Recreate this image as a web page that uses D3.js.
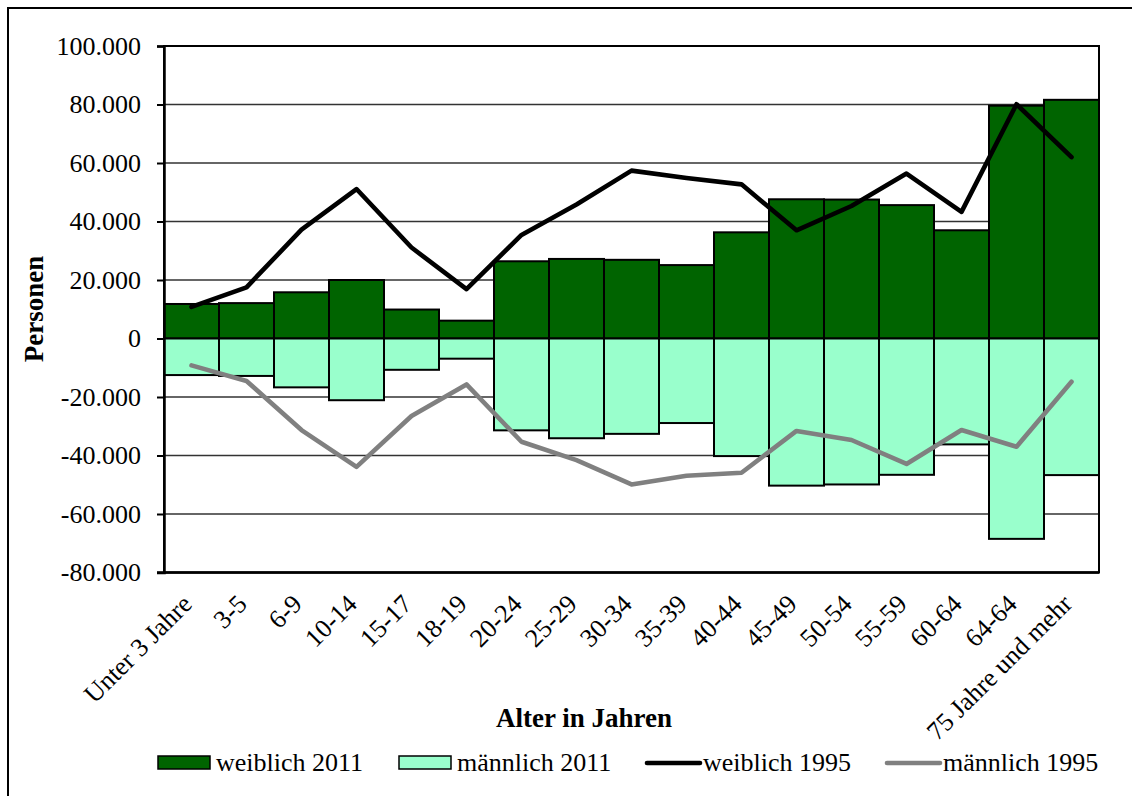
<!DOCTYPE html>
<html>
<head>
<meta charset="utf-8">
<script src="https://cdnjs.cloudflare.com/ajax/libs/d3/7.8.5/d3.min.js"></script>
<style>
  html, body { margin: 0; padding: 0; background: #fff; }
  svg { display: block; }
  text { font-family: "Liberation Serif", "Times New Roman", serif; fill: #000; }
</style>
</head>
<body>
<svg id="chart" width="1132" height="796"></svg>
<script>
// Age groups
const categories = ["Unter 3 Jahre", "3-5", "6-9", "10-14", "15-17", "18-19", "20-24", "25-29",
  "30-34", "35-39", "40-44", "45-49", "50-54", "55-59", "60-64", "64-64", "75 Jahre und mehr"];

// Persons per age group
const female2011 = [11800, 12100, 15800, 20000, 9900, 6100, 26400, 27200, 26900, 25100,
  36300, 47600, 47500, 45600, 37000, 79600, 81600];
const male2011 = [-12500, -12800, -16700, -21100, -10700, -6900, -31400, -34100, -32600, -28900,
  -40200, -50300, -49900, -46600, -36200, -68500, -46700];
const female1995 = [10800, 17500, 37200, 51100, 31100, 16900, 35400, 45800, 57400, 54900,
  52700, 37000, 45300, 56400, 43300, 80100, 62000];
const male1995 = [-9200, -14500, -31300, -43900, -26500, -15700, -35300, -41600, -49900, -46900,
  -45900, -31600, -34700, -42900, -31300, -37000, -14800];

const yTicks = [-80000, -60000, -40000, -20000, 0, 20000, 40000, 60000, 80000, 100000];

const legendItems = [
  { label: "weiblich 2011", type: "bar", color: "#006400" },
  { label: "männlich 2011", type: "bar", color: "#99FFCC" },
  { label: "weiblich 1995", type: "line", color: "#000000" },
  { label: "männlich 1995", type: "line", color: "#808080" }
];

const svg = d3.select("#chart");
const plot = { left: 164, right: 1099, top: 46, bottom: 572.5 };
const FONT = 26;

// outer frame
svg.append("rect")
  .attr("x", 8).attr("y", 8).attr("width", 1140).attr("height", 800)
  .attr("fill", "none").attr("stroke", "#000").attr("stroke-width", 2);

const x = d3.scaleBand().domain(categories).range([plot.left, plot.right]).padding(0);
const y = d3.scaleLinear().domain([-80000, 100000]).range([plot.bottom, plot.top]);

const fmt = v => v === 0 ? "0" : d3.format(",")(v).replace(/,/g, ".").replace("−", "-");

// horizontal grid
svg.append("g")
  .selectAll("line")
  .data(yTicks)
  .join("line")
  .attr("x1", plot.left).attr("x2", plot.right)
  .attr("y1", d => y(d)).attr("y2", d => y(d))
  .attr("stroke", "#333").attr("stroke-width", 1.3);

// bars: female above zero, male below
svg.append("g")
  .selectAll("rect")
  .data(female2011)
  .join("rect")
  .attr("x", (d, i) => x(categories[i]))
  .attr("width", x.bandwidth())
  .attr("y", d => y(d))
  .attr("height", d => y(0) - y(d))
  .attr("fill", "#006400").attr("stroke", "#000").attr("stroke-width", 2);

svg.append("g")
  .selectAll("rect")
  .data(male2011)
  .join("rect")
  .attr("x", (d, i) => x(categories[i]))
  .attr("width", x.bandwidth())
  .attr("y", y(0))
  .attr("height", d => y(d) - y(0))
  .attr("fill", "#99FFCC").attr("stroke", "#000").attr("stroke-width", 2);

// 1995 lines
const line = d3.line()
  .x((d, i) => x(categories[i]) + x.bandwidth() / 2)
  .y(d => y(d));

svg.append("path").datum(female1995).attr("d", line)
  .attr("fill", "none").attr("stroke", "#000").attr("stroke-width", 4.6)
  .attr("stroke-linejoin", "round").attr("stroke-linecap", "round");
svg.append("path").datum(male1995).attr("d", line)
  .attr("fill", "none").attr("stroke", "#808080").attr("stroke-width", 4.6)
  .attr("stroke-linejoin", "round").attr("stroke-linecap", "round");

// plot frame
svg.append("rect")
  .attr("x", plot.left).attr("y", plot.top)
  .attr("width", plot.right - plot.left).attr("height", plot.bottom - plot.top)
  .attr("fill", "none").attr("stroke", "#000").attr("stroke-width", 2);

// y axis
const yAxis = d3.axisLeft(y).tickValues(yTicks).tickFormat(fmt).tickSize(7).tickPadding(16);
const gy = svg.append("g").attr("transform", `translate(${plot.left},0)`).call(yAxis);
gy.select(".domain").attr("stroke", "#000").attr("stroke-width", 2.5);
gy.selectAll(".tick line").attr("stroke", "#000").attr("stroke-width", 2);
gy.selectAll(".tick text")
  .attr("font-family", "Liberation Serif").attr("font-size", FONT).attr("fill", "#000");

// x axis line and rotated category labels
svg.append("line")
  .attr("x1", plot.left - 7).attr("x2", plot.right)
  .attr("y1", plot.bottom).attr("y2", plot.bottom)
  .attr("stroke", "#000").attr("stroke-width", 2.5);

svg.append("g")
  .selectAll("text")
  .data(categories)
  .join("text")
  .attr("transform", d => `translate(${x(d) + x.bandwidth() / 2 + 2},${plot.bottom + 33}) rotate(-45)`)
  .attr("text-anchor", "end")
  .attr("font-size", FONT)
  .text(d => d);

// axis titles
svg.append("text")
  .attr("transform", "translate(43,309) rotate(-90)")
  .attr("text-anchor", "middle")
  .attr("font-size", 27).attr("font-weight", "bold")
  .text("Personen");

svg.append("text")
  .attr("x", 584).attr("y", 727)
  .attr("text-anchor", "middle")
  .attr("font-size", 27).attr("font-weight", "bold")
  .text("Alter in Jahren");

// legend
const legendX = [158, 399, 645, 885];
const lg = svg.append("g");
legendItems.forEach((item, i) => {
  const g = lg.append("g").attr("transform", `translate(${legendX[i]},0)`);
  if (item.type === "bar") {
    g.append("rect").attr("x", 0).attr("y", 756).attr("width", 52).attr("height", 13)
      .attr("fill", item.color).attr("stroke", "#000").attr("stroke-width", 1.5);
  } else {
    g.append("line").attr("x1", 2).attr("x2", 55).attr("y1", 763).attr("y2", 763)
      .attr("stroke", item.color).attr("stroke-width", 4.6).attr("stroke-linecap", "round");
  }
  g.append("text").attr("x", 58).attr("y", 771).attr("font-size", FONT).text(item.label);
});
</script>
</body>
</html>
